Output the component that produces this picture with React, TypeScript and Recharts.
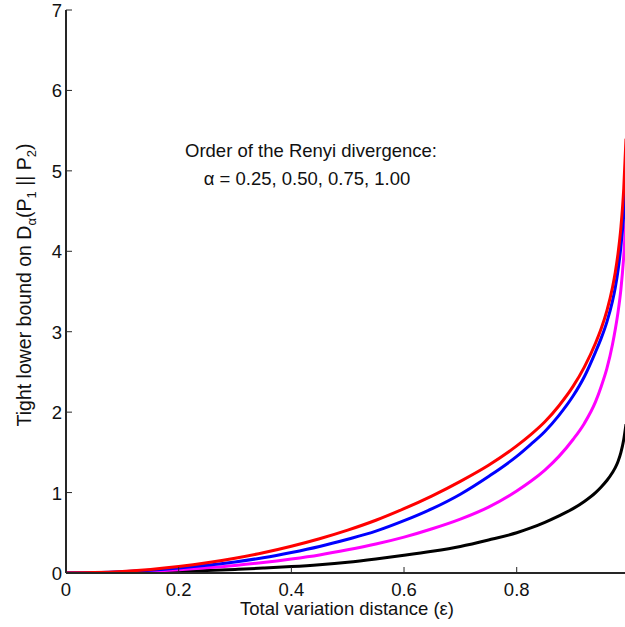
import { Line, LineChart, XAxis, YAxis } from "recharts"

const eps = [
  0, 0.05, 0.1, 0.15, 0.2, 0.25, 0.3, 0.35, 0.4, 0.45, 0.5, 0.55, 0.6, 0.65, 0.7, 0.75, 0.8, 0.825, 0.85,
  0.875, 0.9, 0.92, 0.94, 0.95, 0.96, 0.97, 0.975, 0.98, 0.985, 0.99, 0.994,
]

// alpha = 0.25
const alpha025 = [
  0, 0.001, 0.005, 0.011, 0.02, 0.031, 0.045, 0.061, 0.08, 0.104, 0.135, 0.175, 0.22, 0.27, 0.33, 0.41, 0.5,
  0.56, 0.63, 0.71, 0.8, 0.89, 1.0, 1.07, 1.15, 1.25, 1.31, 1.39, 1.5, 1.66, 1.85,
]

// alpha = 0.50
const alpha050 = [
  0, 0.003, 0.01, 0.023, 0.041, 0.065, 0.094, 0.13, 0.174, 0.225, 0.288, 0.36, 0.446, 0.55, 0.67, 0.82, 1.02,
  1.14, 1.28, 1.45, 1.66, 1.86, 2.13, 2.32, 2.54, 2.84, 3.03, 3.25, 3.53, 3.94, 4.4,
]

// alpha = 0.75
const alpha075 = [
  0, 0.004, 0.015, 0.034, 0.061, 0.095, 0.138, 0.19, 0.255, 0.33, 0.42, 0.52, 0.65, 0.8, 0.98, 1.2, 1.45,
  1.6, 1.76, 1.96, 2.2, 2.44, 2.75, 2.92, 3.12, 3.38, 3.55, 3.77, 4.06, 4.45, 4.85,
]

// alpha = 1.00
const alpha100 = [
  0, 0.005, 0.02, 0.045, 0.081, 0.127, 0.184, 0.252, 0.333, 0.426, 0.533, 0.656, 0.8, 0.96, 1.14, 1.34, 1.58,
  1.72, 1.88, 2.08, 2.32, 2.56, 2.86, 3.04, 3.26, 3.55, 3.74, 3.98, 4.3, 4.78, 5.4,
]

const xTicks = [0, 0.2, 0.4, 0.6, 0.8]
const yTicks = [0, 1, 2, 3, 4, 5, 6, 7]

const rows = eps.map((e, i) => ({
  eps: e,
  a25: alpha025[i],
  a50: alpha050[i],
  a75: alpha075[i],
  a100: alpha100[i],
}))

const FONT = '"Liberation Sans", Arial, Helvetica, sans-serif'
const AXIS = "#262626"
const TXT = "#111"

const BottomTick = (p: any) => (
  <g>
    <line x1={p.x} y1={p.y} x2={p.x} y2={p.y - 6} stroke={AXIS} strokeWidth={1} />
    <text x={p.x} y={p.y + 23} textAnchor="middle" fontSize={18.5} fontFamily={FONT} fill={TXT}>
      {p.payload.value === 0 ? "0" : String(p.payload.value)}
    </text>
  </g>
)

const TopTick = (p: any) => (
  <line x1={p.x} y1={p.y} x2={p.x} y2={p.y + 6} stroke={AXIS} strokeWidth={1} />
)

const LeftTick = (p: any) => (
  <g>
    <line x1={p.x} y1={p.y} x2={p.x + 6} y2={p.y} stroke={AXIS} strokeWidth={1} />
    <text x={p.x - 4} y={p.y + 7} textAnchor="end" fontSize={18.5} fontFamily={FONT} fill={TXT}>
      {String(p.payload.value)}
    </text>
  </g>
)

const RightTick = (p: any) => (
  <line x1={p.x} y1={p.y} x2={p.x - 6} y2={p.y} stroke={AXIS} strokeWidth={1} />
)

export default function App() {
  return (
    <div style={{ position: "absolute", left: 0, top: 0, width: 625, height: 627, overflow: "hidden", background: "#fff" }}>
      <LineChart width={640} height={627} data={rows} margin={{ top: 10, right: 14, bottom: 0, left: 0 }}>
        <XAxis
          dataKey="eps"
          type="number"
          domain={[0, 0.994]}
          ticks={xTicks}
          height={54}
          tickSize={0}
          tickMargin={0}
          tickLine={false}
          tick={BottomTick}
          axisLine={{ stroke: AXIS, strokeWidth: 2 }}
          allowDataOverflow
        />
        <XAxis
          xAxisId="top"
          orientation="top"
          dataKey="eps"
          type="number"
          domain={[0, 0.994]}
          ticks={xTicks}
          height={0}
          tickSize={0}
          tickMargin={0}
          tickLine={false}
          tick={TopTick}
          axisLine={{ stroke: AXIS, strokeWidth: 2 }}
          allowDataOverflow
        />
        <YAxis
          type="number"
          domain={[0, 7]}
          ticks={yTicks}
          width={66}
          tickSize={0}
          tickMargin={0}
          tickLine={false}
          tick={LeftTick}
          axisLine={{ stroke: AXIS, strokeWidth: 2 }}
          allowDataOverflow
        />
        <YAxis
          yAxisId="right"
          orientation="right"
          type="number"
          domain={[0, 7]}
          ticks={yTicks}
          width={0}
          tickSize={0}
          tickMargin={0}
          tickLine={false}
          tick={RightTick}
          axisLine={{ stroke: AXIS, strokeWidth: 2 }}
          allowDataOverflow
        />
        <Line dataKey="a25" type="monotone" stroke="#000000" strokeWidth={3} dot={false} isAnimationActive={false} />
        <Line dataKey="a50" type="monotone" stroke="#ff00ff" strokeWidth={3} dot={false} isAnimationActive={false} />
        <Line dataKey="a75" type="monotone" stroke="#0000ff" strokeWidth={3} dot={false} isAnimationActive={false} />
        <Line dataKey="a100" type="monotone" stroke="#ff0000" strokeWidth={3} dot={false} isAnimationActive={false} />
      </LineChart>
      <svg width={625} height={627} style={{ position: "absolute", left: 0, top: 0, pointerEvents: "none" }}>
        <g fontFamily={FONT} fill={TXT}>
          <text x={311} y={157} textAnchor="middle" fontSize={18.5}>
            Order of the Renyi divergence:
          </text>
          <text x={307} y={185} textAnchor="middle" fontSize={18.5}>
            α = 0.25, 0.50, 0.75, 1.00
          </text>
          <text x={347} y={615} textAnchor="middle" fontSize={18.5}>
            Total variation distance (ε)
          </text>
          <text transform="translate(30.5,285) rotate(-90)" textAnchor="middle" fontSize={19.5}>
            Tight lower bound on D
            <tspan fontSize={13} dy={5}>α</tspan>
            <tspan dy={-5}>(P</tspan>
            <tspan fontSize={13} dy={5}>1</tspan>
            <tspan dy={-5}> || P</tspan>
            <tspan fontSize={13} dy={5}>2</tspan>
            <tspan dy={-5}>)</tspan>
          </text>
        </g>
      </svg>
    </div>
  )
}
